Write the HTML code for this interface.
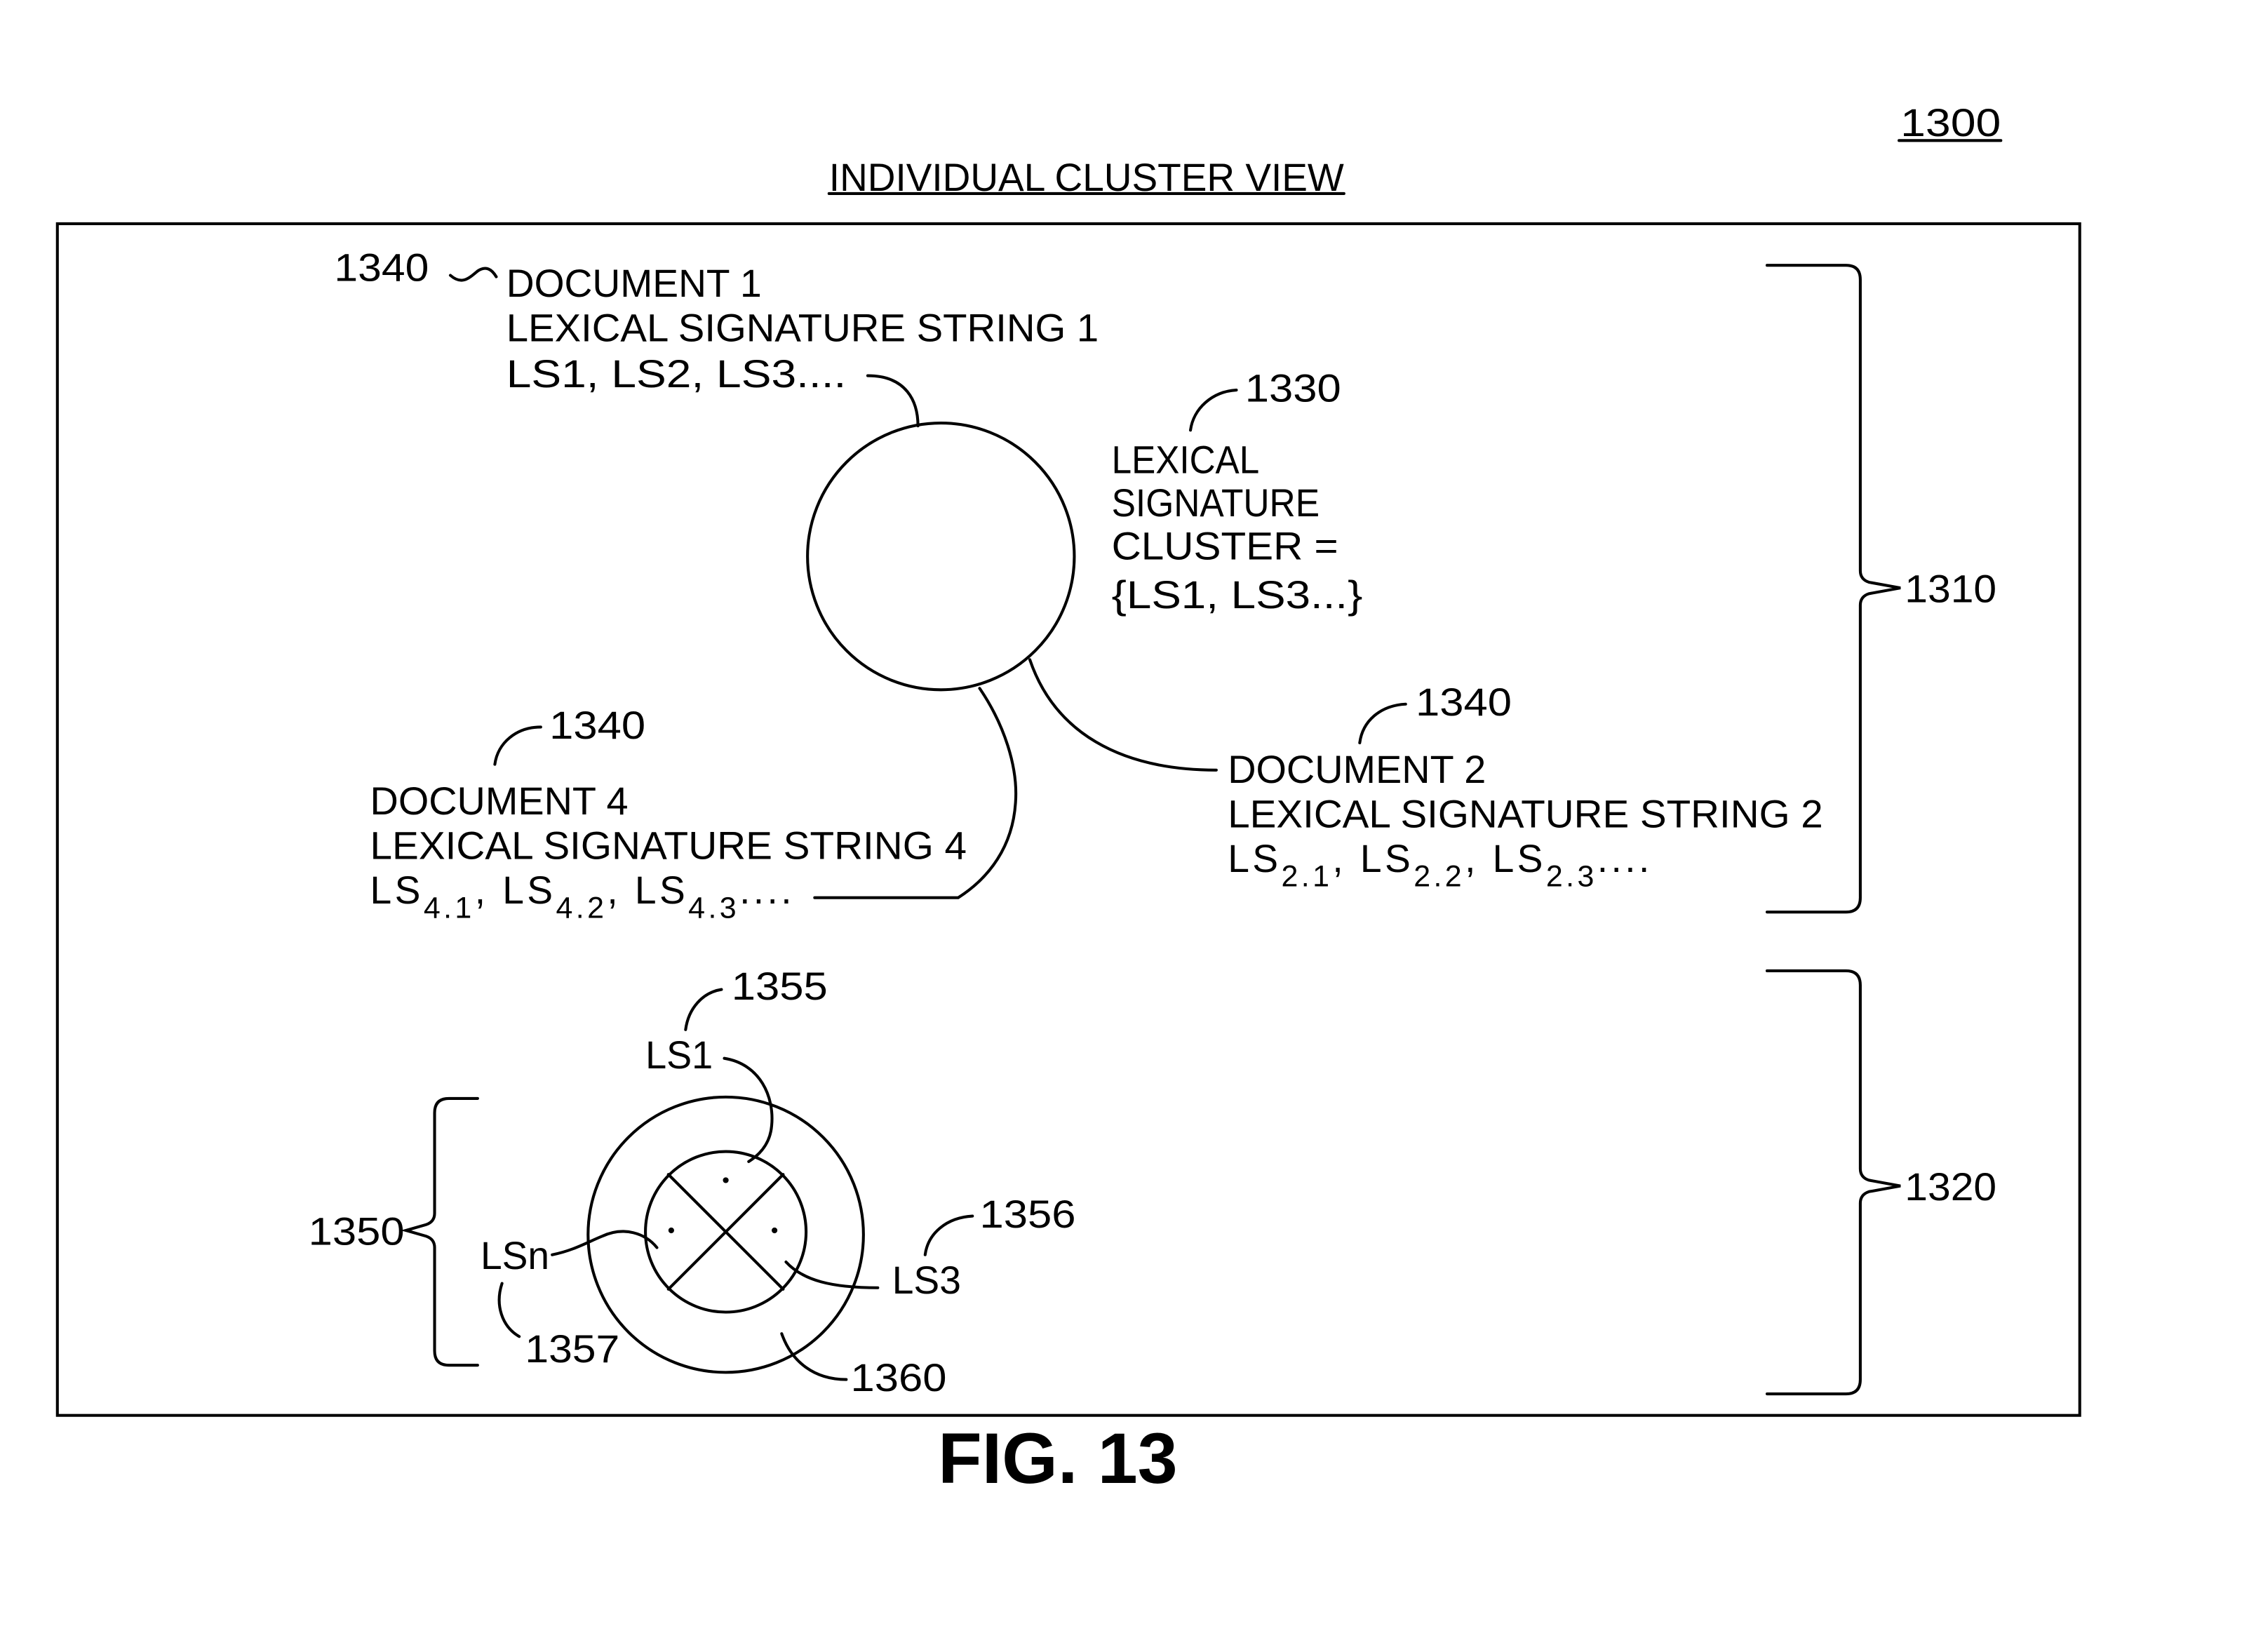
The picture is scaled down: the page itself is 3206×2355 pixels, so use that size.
<!DOCTYPE html>
<html><head><meta charset="utf-8"><style>
html,body{margin:0;padding:0;background:#fff;}
svg{display:block;}
text{font-family:"Liberation Sans",sans-serif;fill:#000;}
</style></head><body>
<svg width="3206" height="2355" viewBox="0 0 1568 1152" preserveAspectRatio="none" xmlns="http://www.w3.org/2000/svg">
<g fill="none" stroke="#000" stroke-width="2" stroke-linecap="round">
<rect x="40" y="156" width="1410" height="831"/>
<line x1="1324" y1="98" x2="1395" y2="98"/>
<line x1="578" y1="135" x2="937" y2="135"/>
<path d="M314,192 C322,199 327,194 333,189 C339,185 343,188 346,193"/>
<path d="M605,262 C632,262 640,280 640,297"/>
<circle cx="656" cy="388" r="93"/>
<path d="M830,300 C832,285 845,273 862,272"/>
<path d="M718,460 C735,510 780,537 848,537"/>
<path d="M948,518 C950,503 962,492 980,491"/>
<path d="M683,480 C700,505 710,535 708,560 C706,590 690,612 668,626 L568,626"/>
<path d="M345,533 C347,518 360,507 377,507"/>
<path d="M1232,185 L1287,185 Q1297,185 1297,195 L1297,398 Q1297,404 1303,406 L1325,410 L1303,414 Q1297,416 1297,422 L1297,626 Q1297,636 1287,636 L1232,636"/>
<path d="M1232,677 L1287,677 Q1297,677 1297,687 L1297,815 Q1297,821 1303,823 L1325,827 L1303,831 Q1297,833 1297,839 L1297,962 Q1297,972 1287,972 L1232,972"/>
<path d="M333,766 L313,766 Q303,766 303,776 L303,846 Q303,852 297,854 L283,858 L297,862 Q303,864 303,870 L303,942 Q303,952 313,952 L333,952"/>
<circle cx="506" cy="861" r="96"/>
<circle cx="506" cy="859" r="56"/>
<line x1="466" y1="819" x2="546" y2="899"/>
<line x1="546" y1="819" x2="466" y2="899"/>
<path d="M478,718 C480,703 490,692 503,690"/>
<path d="M505,738 C530,742 540,765 538,785 C537,797 530,805 522,810"/>
<path d="M385,875 C400,872 410,866 420,862 C435,855 450,860 458,870"/>
<path d="M548,880 C560,893 580,898 612,898"/>
<path d="M645,875 C647,860 660,849 678,848"/>
<path d="M350,895 C345,910 350,925 362,932"/>
<path d="M545,930 C552,950 568,962 590,962"/>
</g>
<g fill="#000">
<circle cx="506" cy="823" r="2"/>
<circle cx="468" cy="858" r="2"/>
<circle cx="540" cy="858" r="2"/>
</g>
<g font-size="27">
<text x="1325" y="95" textLength="70" lengthAdjust="spacingAndGlyphs">1300</text>
<text x="578" y="133" textLength="359" lengthAdjust="spacingAndGlyphs">INDIVIDUAL  CLUSTER  VIEW</text>
<text x="233" y="196" textLength="66" lengthAdjust="spacingAndGlyphs">1340</text>
<text x="353" y="207" textLength="178" lengthAdjust="spacingAndGlyphs">DOCUMENT  1</text>
<text x="353" y="238" textLength="413" lengthAdjust="spacingAndGlyphs">LEXICAL  SIGNATURE  STRING  1</text>
<text x="353" y="270" textLength="237" lengthAdjust="spacingAndGlyphs">LS1,  LS2,  LS3....</text>
<text x="868" y="280" textLength="67" lengthAdjust="spacingAndGlyphs">1330</text>
<text x="775" y="330" textLength="103" lengthAdjust="spacingAndGlyphs">LEXICAL</text>
<text x="775" y="360" textLength="145" lengthAdjust="spacingAndGlyphs">SIGNATURE</text>
<text x="775" y="390" textLength="158" lengthAdjust="spacingAndGlyphs">CLUSTER  =</text>
<text x="775" y="424" textLength="175" lengthAdjust="spacingAndGlyphs">{LS1,  LS3...}</text>
<text x="987" y="499" textLength="67" lengthAdjust="spacingAndGlyphs">1340</text>
<text x="856" y="546" textLength="180" lengthAdjust="spacingAndGlyphs">DOCUMENT  2</text>
<text x="856" y="577" textLength="415" lengthAdjust="spacingAndGlyphs">LEXICAL  SIGNATURE  STRING  2</text>
<text x="856" y="608" textLength="294" lengthAdjust="spacing">LS<tspan font-size="21" dy="10">2.1</tspan><tspan dy="-10">,  LS</tspan><tspan font-size="21" dy="10">2.2</tspan><tspan dy="-10">,  LS</tspan><tspan font-size="21" dy="10">2.3</tspan><tspan dy="-10">....</tspan></text>
<text x="383" y="515" textLength="67" lengthAdjust="spacingAndGlyphs">1340</text>
<text x="258" y="568" textLength="180" lengthAdjust="spacingAndGlyphs">DOCUMENT  4</text>
<text x="258" y="599" textLength="416" lengthAdjust="spacingAndGlyphs">LEXICAL  SIGNATURE  STRING  4</text>
<text x="258" y="630" textLength="294" lengthAdjust="spacing">LS<tspan font-size="21" dy="10">4.1</tspan><tspan dy="-10">,  LS</tspan><tspan font-size="21" dy="10">4.2</tspan><tspan dy="-10">,  LS</tspan><tspan font-size="21" dy="10">4.3</tspan><tspan dy="-10">....</tspan></text>
<text x="1328" y="420" textLength="64" lengthAdjust="spacingAndGlyphs">1310</text>
<text x="1328" y="837" textLength="64" lengthAdjust="spacingAndGlyphs">1320</text>
<text x="510" y="697" textLength="67" lengthAdjust="spacingAndGlyphs">1355</text>
<text x="450" y="745" textLength="47" lengthAdjust="spacingAndGlyphs">LS1</text>
<text x="215" y="868" textLength="67" lengthAdjust="spacingAndGlyphs">1350</text>
<text x="335" y="885" textLength="48" lengthAdjust="spacingAndGlyphs">LSn</text>
<text x="622" y="902" textLength="48" lengthAdjust="spacingAndGlyphs">LS3</text>
<text x="683" y="856" textLength="67" lengthAdjust="spacingAndGlyphs">1356</text>
<text x="366" y="950" textLength="66" lengthAdjust="spacingAndGlyphs">1357</text>
<text x="593" y="970" textLength="67" lengthAdjust="spacingAndGlyphs">1360</text>
</g>
<text x="654" y="1034" font-size="50" font-weight="bold" textLength="167" lengthAdjust="spacingAndGlyphs">FIG. 13</text>
</svg>
</body></html>
